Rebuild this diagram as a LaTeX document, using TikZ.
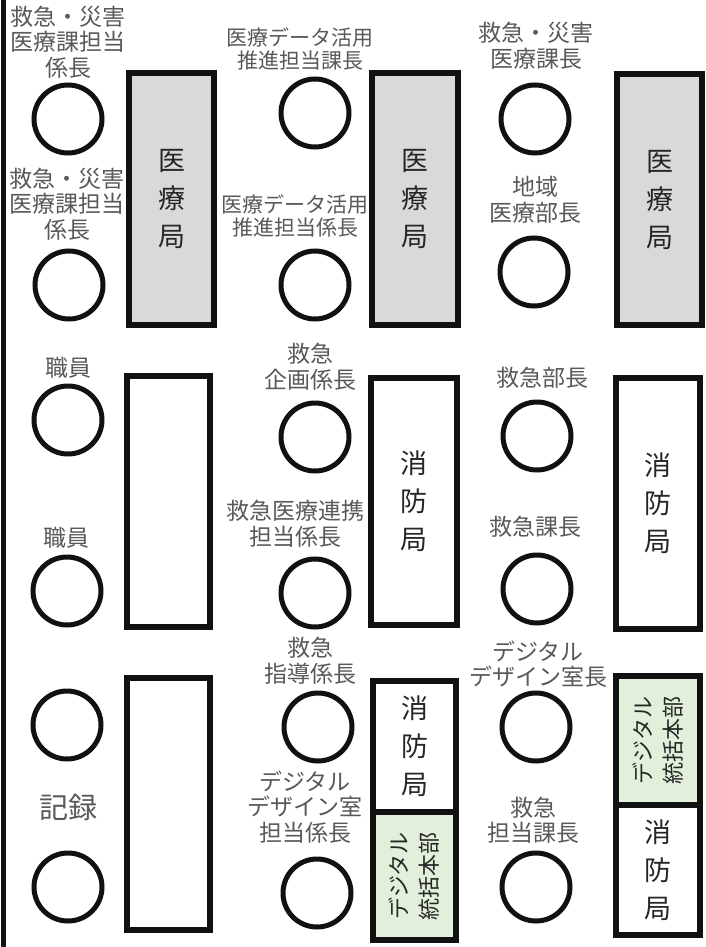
\documentclass[tikz,border=0pt]{standalone}
\usepackage{fontspec}
\setmainfont{Noto Sans CJK JP}
\definecolor{lbl}{RGB}{89,89,89}
\definecolor{boxgray}{RGB}{217,217,217}
\definecolor{boxgreen}{RGB}{226,239,218}
\definecolor{edge}{RGB}{17,17,17}
\tikzset{
  person/.style={circle, draw=edge, line width=5pt, minimum size=68pt, inner sep=0pt},
  lab/.style={text=lbl, align=center, inner sep=0pt, font={\fontsize{23}{25.5}\selectfont}},
  labs/.style={text=lbl, align=center, inner sep=0pt, font={\fontsize{21}{23}\selectfont}},
  labl/.style={text=lbl, align=center, inner sep=0pt, font={\fontsize{29}{32}\selectfont}},
  orgbox/.style={draw=edge, line width=6pt, inner sep=0pt, align=center, text=black!85,
                 font={\fontsize{27}{38}\selectfont}},
  medbox/.style={orgbox, fill=boxgray},
  firebox/.style={orgbox, fill=white},
  digibox/.style={orgbox, fill=boxgreen},
  digitext/.style={rotate=90, align=center, inner sep=0pt, text=black!85,
                   font={\fontsize{22}{30}\selectfont}}
}
\begin{document}
\begin{tikzpicture}[x=1pt,y=-1pt]
\useasboundingbox (0,0) rectangle (705,947);
\fill[white] (0,0) rectangle (705,947);
% left rule
\coordinate (ltop) at (3,0);
\coordinate (lbot) at (3,947);
\draw[edge, line width=5pt] (ltop) -- (lbot);

% ---------- row 1 ----------
\node[lab] (la1) at (68,42) {救急・災害\\医療課担当\\係長};
\node[person] (a1) at (68,119) {};
\node[lab] (la2) at (67,204) {救急・災害\\医療課担当\\係長};
\node[person] (a2) at (69,285) {};
\node[medbox, minimum width=85pt, minimum height=252pt] (r1) at (171.5,199) {医\\療\\局};

\node[labs] (lb1) at (300,49) {医療データ活用\\推進担当課長};
\node[person] (b1) at (315,113) {};
\node[labs] (lb2) at (295,216) {医療データ活用\\推進担当係長};
\node[person] (b2) at (315,285) {};
\node[medbox, minimum width=86pt, minimum height=252pt] (r2) at (415,199) {医\\療\\局};

\node[lab] (lc1) at (536,46) {救急・災害\\医療課長};
\node[person] (c1) at (535,119) {};
\node[lab] (lc2) at (535,200) {地域\\医療部長};
\node[person] (c2) at (534,272) {};
\node[medbox, minimum width=85pt, minimum height=251pt] (r3) at (659.5,199.5) {医\\療\\局};

% ---------- row 2 ----------
\node[lab] (ld1) at (68,368) {職員};
\node[person] (d1) at (68,420) {};
\node[lab] (ld2) at (66,538) {職員};
\node[person] (d2) at (67,591) {};
\node[firebox, minimum width=83pt, minimum height=251pt] (r4) at (168.5,501.5) {};

\node[lab] (le1) at (310,367) {救急\\企画係長};
\node[person] (e1) at (315,437) {};
\node[lab] (le2) at (295,524) {救急医療連携\\担当係長};
\node[person] (e2) at (315,593) {};
\node[firebox, minimum width=86pt, minimum height=247pt] (r5) at (414,501.5) {消\\防\\局};

\node[lab] (lf1) at (542,378) {救急部長};
\node[person] (f1) at (537,436) {};
\node[lab] (lf2) at (535,527) {救急課長};
\node[person] (f2) at (537,589) {};
\node[firebox, minimum width=84pt, minimum height=251pt] (r6) at (658,503.5) {消\\防\\局};

% ---------- row 3 ----------
\node[person] (g1) at (67,725) {};
\node[labl] (lg) at (68,807) {記録};
\node[person] (g2) at (68,887) {};
\node[firebox, minimum width=83pt, minimum height=252pt] (r7) at (168.5,804) {};

\node[lab] (lh1) at (310,661) {救急\\指導係長};
\node[person] (h1) at (318,727) {};
\node[lab] (lh2) at (305,807) {デジタル\\デザイン室\\担当係長};
\node[person] (h2) at (317,893) {};
\node[firebox, minimum width=83pt, minimum height=131pt] (r8a) at (414.5,746.5) {消\\防\\局};
\node[digibox, minimum width=83pt, minimum height=128pt] (r8b) at (414.5,876) {};
\node[digitext] (t8b) at (r8b.center) {デジタル\\統括本部};

\node[lab] (li1) at (538,664) {デジタル\\デザイン室長};
\node[person] (i1) at (536,727) {};
\node[lab] (li2) at (533,820) {救急\\担当課長};
\node[person] (i2) at (536,887) {};
\node[digibox, minimum width=84pt, minimum height=129pt] (r9a) at (658,740.5) {};
\node[digitext] (t9a) at (r9a.center) {デジタル\\統括本部};
\node[firebox, minimum width=84pt, minimum height=130pt] (r9b) at (658,870) {消\\防\\局};
\end{tikzpicture}
\end{document}
